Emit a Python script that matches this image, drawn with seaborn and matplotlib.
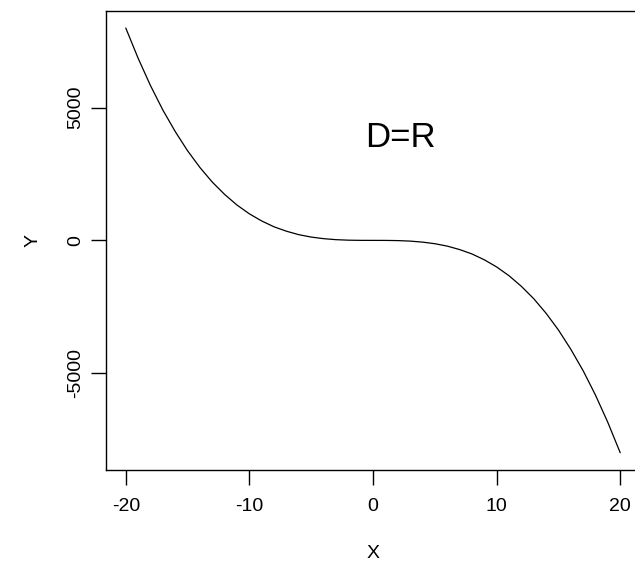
import matplotlib
matplotlib.use("Agg")
import matplotlib.pyplot as plt
import seaborn as sns
import pandas as pd

x_vals = [-20, -19, -18, -17, -16, -15, -14, -13, -12, -11, -10, -9, -8, -7, -6, -5, -4, -3, -2, -1,
          0, 1, 2, 3, 4, 5, 6, 7, 8, 9, 10, 11, 12, 13, 14, 15, 16, 17, 18, 19, 20]
y_vals = [8000, 6860, 5830, 4910, 4100, 3375, 2745, 2195, 1730, 1330, 1000, 730, 510, 345, 215, 125, 65, 27, 8, 1,
          0, -1, -8, -27, -65, -125, -215, -345, -510, -730, -1000, -1330, -1730, -2195, -2745, -3375, -4100, -4910, -5830, -6860, -8000]
x_ticks = [-20, -10, 0, 10, 20]
y_ticks = [-5000, 0, 5000]
annotation = "D=R"

sns.set_style("white")
plt.rcParams['font.family'] = ['Liberation Sans', 'DejaVu Sans']
plt.rcParams['text.color'] = 'black'
plt.rcParams['axes.labelcolor'] = 'black'
plt.rcParams['xtick.color'] = 'black'
plt.rcParams['ytick.color'] = 'black'

df = pd.DataFrame({"X": x_vals, "Y": y_vals})

W, H = 635, 564
fig = plt.figure(figsize=(W / 100, H / 100), dpi=100)
left, right, top, bottom = 106, 640, 10.5, 470
ax = fig.add_axes([left / W, (H - bottom) / H, (right - left) / W, (bottom - top) / H])

sns.lineplot(data=df, x="X", y="Y", ax=ax, color="black", linewidth=0.9, sort=False)

ax.set_xlim(-21.6, 21.6)
ax.set_ylim(-8650, 8660)
ax.set_xticks(x_ticks)
ax.set_yticks(y_ticks)
ax.set_xticklabels([str(v) for v in x_ticks], fontsize=14)
ax.set_yticklabels([str(v) for v in y_ticks], fontsize=14, rotation=90, va="center")
ax.tick_params(axis="x", direction="out", length=11, width=1, color="black", pad=9, bottom=True)
ax.tick_params(axis="y", direction="out", length=11, width=1, color="black", pad=5, left=True)
for s in ax.spines.values():
    s.set_color("black")
    s.set_linewidth(1)

ax.set_xlabel("X", fontsize=14, labelpad=22)
ax.set_ylabel("Y", fontsize=14, labelpad=18)

ax.text(2.2, 3880, annotation, fontsize=25, ha="center", va="center", color="black")

fig.savefig("out.png", dpi=100)
